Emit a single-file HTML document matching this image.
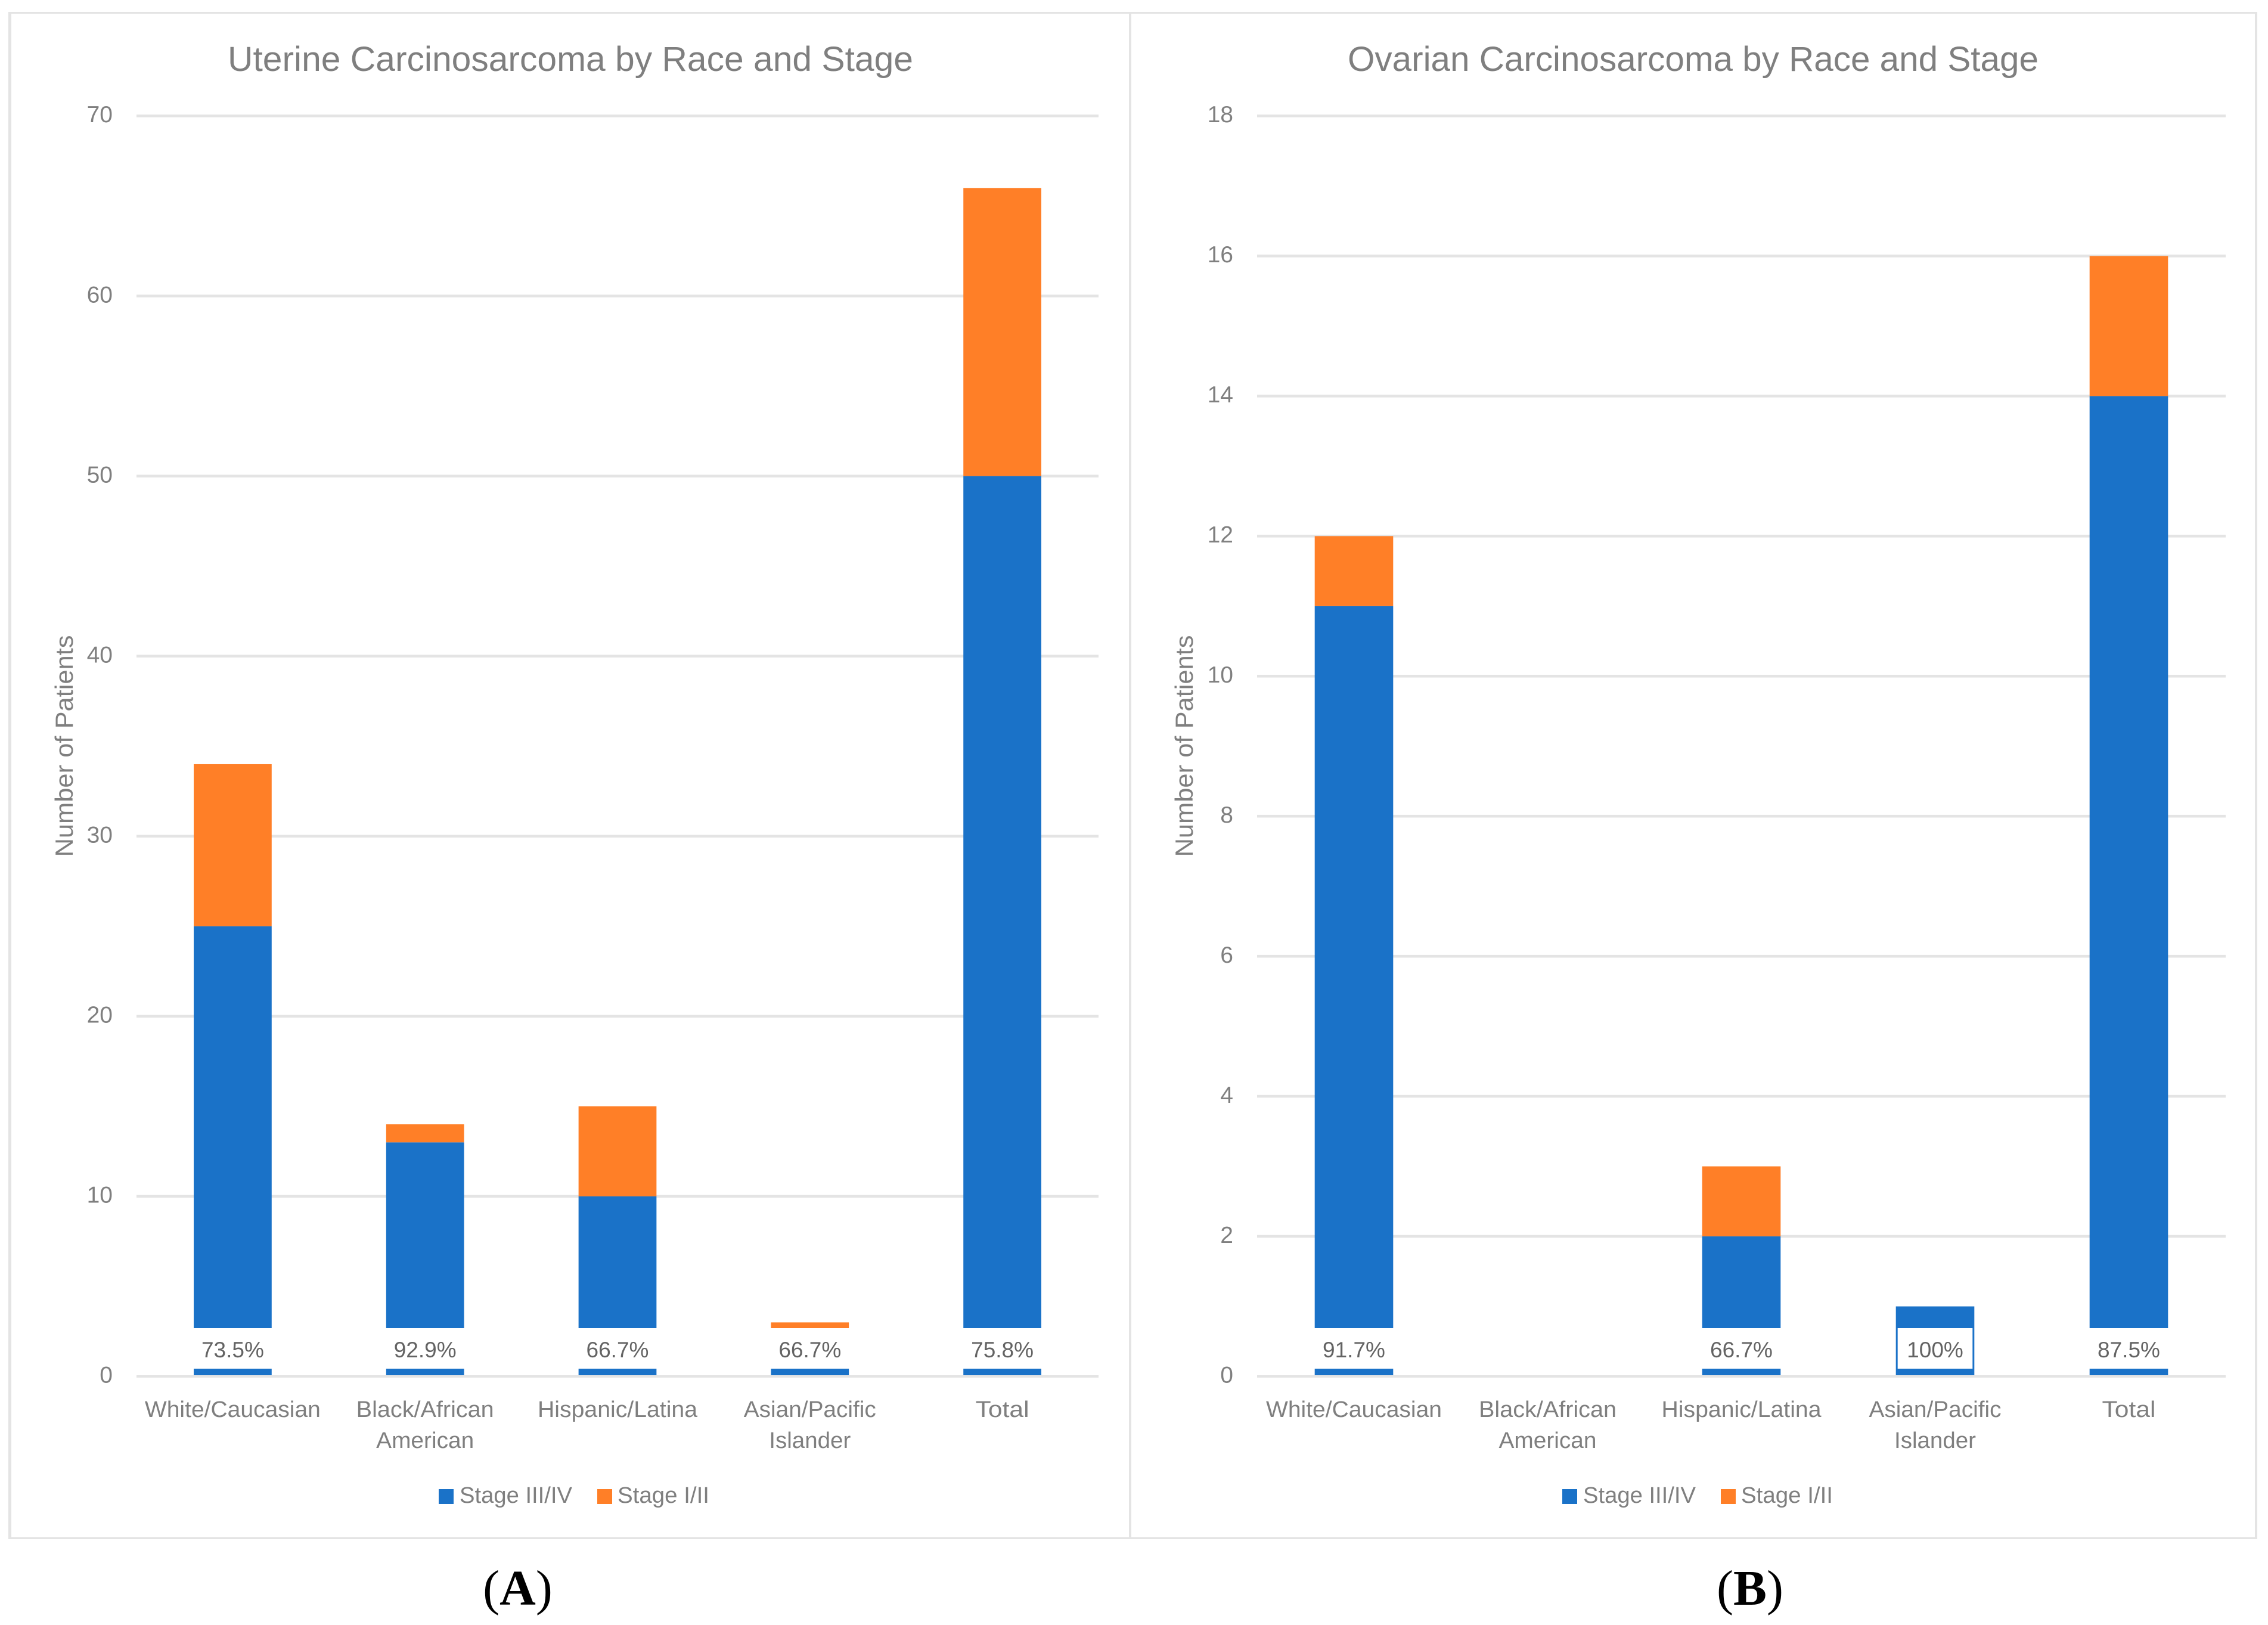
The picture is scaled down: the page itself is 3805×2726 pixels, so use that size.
<!DOCTYPE html>
<html lang="en">
<head>
<meta charset="utf-8">
<title>Carcinosarcoma by Race and Stage</title>
<style>
html,body{margin:0;padding:0;background:#fff;}
svg{display:block;}
text{font-family:"Liberation Sans",sans-serif;fill:#7f7f7f;}
.cap{font-family:"Liberation Serif",serif;fill:#000;font-size:84px;}
</style>
</head>
<body>
<svg id="figure" xmlns="http://www.w3.org/2000/svg" width="3805" height="2726" viewBox="0 0 3805 2726">
  <rect width="3805" height="2726" fill="#ffffff"/>
  <g fill="#e4e4e4">
    <rect x="14" y="20" width="3773" height="3"/>
    <rect x="14" y="2578.5" width="3773" height="3.5"/>
    <rect x="14" y="20" width="5" height="2562"/>
    <rect x="3783" y="20" width="4" height="2562"/>
    <rect x="1894" y="20" width="4" height="2562"/>
  </g>

  <g id="panel-a">
    <text x="957" y="119" font-size="58" text-anchor="middle" textLength="1150" lengthAdjust="spacingAndGlyphs">Uterine Carcinosarcoma by Race and Stage</text>
    <text transform="translate(122 1251.5) rotate(-90)" font-size="42" text-anchor="middle" textLength="372" lengthAdjust="spacingAndGlyphs">Number of Patients</text>
    <g>
      <rect x="736" y="2498" width="25" height="25" fill="#1a72c8"/>
      <text x="771" y="2521" font-size="38" textLength="189" lengthAdjust="spacingAndGlyphs">Stage III/IV</text>
      <rect x="1002" y="2498" width="25" height="25" fill="#ff7f27"/>
      <text x="1036" y="2521" font-size="38" textLength="154" lengthAdjust="spacingAndGlyphs">Stage I/II</text>
    </g>
  </g>

  <g id="panel-b">
    <text x="2840.5" y="119" font-size="58" text-anchor="middle" textLength="1159" lengthAdjust="spacingAndGlyphs">Ovarian Carcinosarcoma by Race and Stage</text>
    <text transform="translate(2001 1251.5) rotate(-90)" font-size="42" text-anchor="middle" textLength="372" lengthAdjust="spacingAndGlyphs">Number of Patients</text>
    <g>
      <rect x="2621" y="2498" width="25" height="25" fill="#1a72c8"/>
      <text x="2656" y="2521" font-size="38" textLength="189" lengthAdjust="spacingAndGlyphs">Stage III/IV</text>
      <rect x="2887" y="2498" width="25" height="25" fill="#ff7f27"/>
      <text x="2921" y="2521" font-size="38" textLength="154" lengthAdjust="spacingAndGlyphs">Stage I/II</text>
    </g>
  </g>

  <text class="cap" x="868.5" y="2692" text-anchor="middle">(<tspan font-weight="700">A</tspan>)</text>
  <text class="cap" x="2936" y="2692" text-anchor="middle">(<tspan font-weight="700">B</tspan>)</text>
</svg>

<script>
const categoryLabels = [
  ["White/Caucasian"],
  ["Black/African", "American"],
  ["Hispanic/Latina"],
  ["Asian/Pacific", "Islander"],
  ["Total"]
];

const uterineTicks = [0, 10, 20, 30, 40, 50, 60, 70];
const uterineStage34 = [25, 13, 10, 2, 50];
const uterineStage12 = [9, 1, 5, 1, 16];
const uterinePercents = ["73.5%", "92.9%", "66.7%", "66.7%", "75.8%"];

const ovarianTicks = [0, 2, 4, 6, 8, 10, 12, 14, 16, 18];
const ovarianStage34 = [11, 0, 2, 1, 14];
const ovarianStage12 = [1, 0, 1, 0, 2];
const ovarianPercents = ["91.7%", "", "66.7%", "100%", "87.5%"];

const SVG_NS = "http://www.w3.org/2000/svg";
const BLUE = "#1a72c8";
const ORANGE = "#ff7f27";
const GRID = "#e4e4e4";
const Y_ZERO = 2309;
const Y_TOP = 194.5;
const BAR_SHARE = 0.405;
const LABEL_BAND_TOP = 81;
const LABEL_BAND_BOTTOM = 13;

/* Fitted text widths: Liberation Sans runs a little narrower than the source face. */
const labelFit = {
  "White/Caucasian": 295,
  "Black/African": 231,
  "American": 164,
  "Hispanic/Latina": 268,
  "Asian/Pacific": 222,
  "Islander": 137,
  "Total": 90
};

function make(tag, attrs, parent, content) {
  const el = document.createElementNS(SVG_NS, tag);
  for (const key in attrs) {
    el.setAttribute(key, attrs[key]);
  }
  if (content !== undefined) {
    el.textContent = content;
  }
  parent.appendChild(el);
  return el;
}

function drawPanel(panel, opts) {
  const maxTick = opts.ticks[opts.ticks.length - 1];
  const yScale = function (v) {
    return Y_ZERO - (v / maxTick) * (Y_ZERO - Y_TOP);
  };
  const band = (opts.x1 - opts.x0) / opts.categories.length;
  const xCenter = function (i) {
    return opts.x0 + band * (i + 0.5);
  };
  const barWidth = band * BAR_SHARE;

  opts.ticks.forEach(function (tick) {
    if (tick !== 0) {
      const grid = make("rect", {
        x: opts.x0, y: yScale(tick) - 2.3, width: opts.x1 - opts.x0, height: 4.6, fill: GRID
      }, panel);
      
      
    }
    const tickLabel = make("text", {
      x: opts.tickRight, y: yScale(tick) + 10.7, "font-size": 39, "text-anchor": "end"
    }, panel, String(tick));
    
    
  });

  opts.categories.forEach(function (lines, i) {
    const cx = xCenter(i);
    const low = opts.stage34[i];
    const high = opts.stage12[i];

    if (low > 0) {
      const lowBar = make("rect", {
        x: cx - barWidth / 2, y: yScale(low), width: barWidth, height: yScale(0) - yScale(low), fill: BLUE
      }, panel);
      
      
    }
    if (high > 0) {
      const highBar = make("rect", {
        x: cx - barWidth / 2, y: yScale(low + high), width: barWidth, height: yScale(low) - yScale(low + high), fill: ORANGE
      }, panel);
      
      
    }

    const pct = opts.percents[i];
    if (pct) {
      const inset = pct === "100%" ? 3 : -1;
      const box = make("rect", {
        x: cx - barWidth / 2 + inset,
        y: Y_ZERO - LABEL_BAND_TOP,
        width: barWidth - inset * 2,
        height: LABEL_BAND_TOP - LABEL_BAND_BOTTOM,
        fill: "#ffffff"
      }, panel);
      
      
      const pctLabel = make("text", {
        x: cx, y: 2277, "font-size": 37, "text-anchor": "middle", style: "fill:#636363"
      }, panel, pct);
      
      
    }

    lines.forEach(function (line, k) {
      const attrs = { x: cx, y: 2377 + k * 52, "font-size": 38, "text-anchor": "middle" };
      if (labelFit[line]) {
        attrs.textLength = labelFit[line];
        attrs.lengthAdjust = "spacingAndGlyphs";
      }
      const catLabel = make("text", attrs, panel, line);
      
      
    });
  });

  const axis = make("rect", {
    x: opts.x0, y: Y_ZERO - 2, width: opts.x1 - opts.x0, height: 4, fill: GRID
  }, panel);
  
  
}

drawPanel(document.getElementById("panel-a"), {
  categories: categoryLabels,
  ticks: uterineTicks,
  stage34: uterineStage34,
  stage12: uterineStage12,
  percents: uterinePercents,
  x0: 229,
  x1: 1843,
  tickRight: 189
});

drawPanel(document.getElementById("panel-b"), {
  categories: categoryLabels,
  ticks: ovarianTicks,
  stage34: ovarianStage34,
  stage12: ovarianStage12,
  percents: ovarianPercents,
  x0: 2109,
  x1: 3734,
  tickRight: 2069
});
</script>
</body>
</html>
